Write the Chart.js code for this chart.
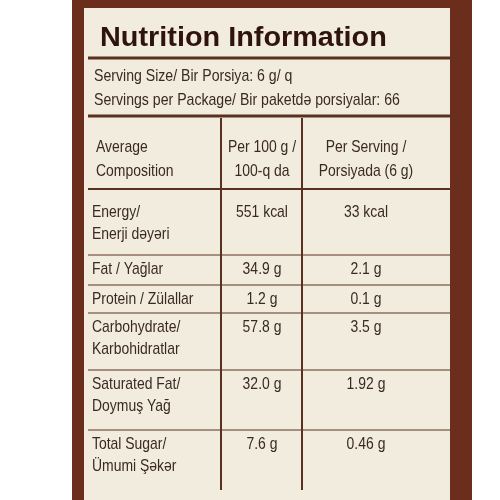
<!DOCTYPE html>
<html><head><meta charset="utf-8">
<script src="https://cdn.jsdelivr.net/npm/chart.js@4/dist/chart.umd.min.js"></script>
<style>html,body{margin:0;background:#fff}#wrap{width:500px;height:500px}</style>
</head><body><div id="wrap"><canvas id="c"></canvas></div>
<script>
const title = 'Nutrition Information';
const servingLines = ['Serving Size/ Bir Porsiya: 6 g/ q', 'Servings per Package/ Bir paketdə porsiyalar: 66'];
const headers = [['Average', 'Composition'], ['Per 100 g /', '100-q da'], ['Per Serving /', 'Porsiyada (6 g)']];
const nutrients = [['Energy/', 'Enerji dəyəri'], ['Fat / Yağlar'], ['Protein / Zülallar'], ['Carbohydrate/', 'Karbohidratlar'], ['Saturated Fat/', 'Doymuş Yağ'], ['Total Sugar/', 'Ümumi Şəkər']];
const per100 = ['551 kcal', '34.9 g', '1.2 g', '57.8 g', '32.0 g', '7.6 g'];
const perServing = ['33 kcal', '2.1 g', '0.1 g', '3.5 g', '1.92 g', '0.46 g'];
const rowTops = [198, 255, 285, 313, 370, 430];

// condensed text: squeeze horizontally around x
function txt(ctx, t, x, y, sx, align) {
  ctx.save();
  ctx.translate(x, y);
  ctx.scale(sx, 1);
  ctx.textAlign = align || 'left';
  ctx.fillText(t, 0, 0);
  ctx.restore();
}

const labelPlugin = {
  id: 'label',
  beforeDraw(chart) {
    const ctx = chart.ctx;
    ctx.save();
    ctx.fillStyle = '#ffffff'; ctx.fillRect(0, 0, 500, 500);
    ctx.fillStyle = '#6b2e1c'; ctx.fillRect(72, 0, 400, 500);
    ctx.fillStyle = '#f2ecdf'; ctx.fillRect(84, 8, 366, 492);
    ctx.fillStyle = '#2e140c';
    ctx.font = 'bold 28px "Liberation Sans"';
    ctx.textBaseline = 'middle';
    txt(ctx, title, 100, 38, 1.03);
    ctx.strokeStyle = '#5a3020';
    ctx.lineWidth = 3;
    [58, 116].forEach(y => { ctx.beginPath(); ctx.moveTo(88, y); ctx.lineTo(450, y); ctx.stroke(); });
    ctx.font = '17px "Liberation Sans"';
    ctx.fillStyle = '#3a2a22';
    servingLines.forEach((t, i) => txt(ctx, t, 94, 76 + i * 24, 0.83));
    ctx.lineWidth = 2;
    ctx.beginPath(); ctx.moveTo(88, 189); ctx.lineTo(450, 189); ctx.stroke();
    ctx.beginPath(); ctx.moveTo(221, 118); ctx.lineTo(221, 490); ctx.moveTo(302, 118); ctx.lineTo(302, 490); ctx.stroke();
    ctx.lineWidth = 1;
    rowTops.slice(1).forEach(y => { ctx.beginPath(); ctx.moveTo(88, y); ctx.lineTo(450, y); ctx.stroke(); });
    ctx.font = '17px "Liberation Sans"';
    const cols = [96, 262, 366];
    headers.forEach((h, c) => h.forEach((t, j) => {
      txt(ctx, t, cols[c], 147 + j * 24, 0.82, c === 0 ? 'left' : 'center');
    }));
    nutrients.forEach((n, i) => {
      const y = rowTops[i] + 14;
      n.forEach((t, j) => txt(ctx, t, 92, y + j * 22, 0.82));
      txt(ctx, per100[i], 262, y, 0.82, 'center');
      txt(ctx, perServing[i], 366, y, 0.82, 'center');
    });
    ctx.restore();
  }
};

new Chart(document.getElementById('c'), {
  type: 'scatter',
  data: { datasets: [{ data: [] }] },
  options: {
    responsive: true, maintainAspectRatio: false, animation: false,
    plugins: { legend: { display: false }, tooltip: { enabled: false } },
    scales: { x: { display: false }, y: { display: false } }
  },
  plugins: [labelPlugin]
});
</script></body></html>
